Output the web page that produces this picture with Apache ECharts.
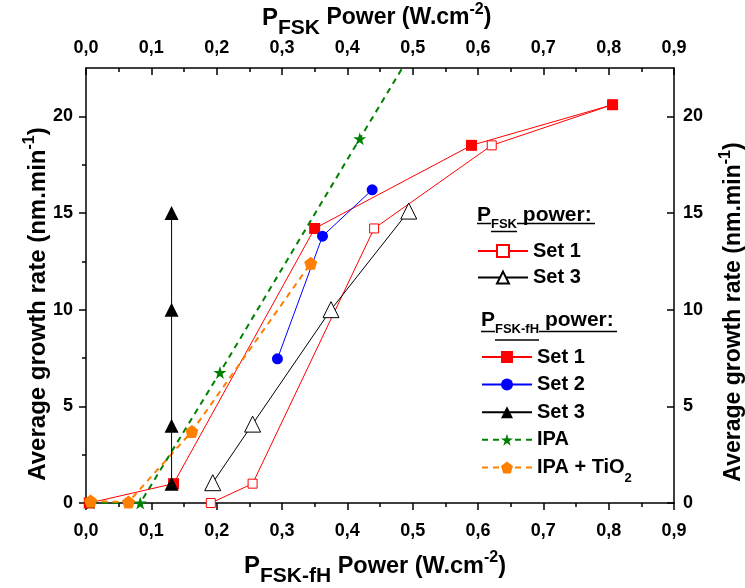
<!DOCTYPE html>
<html>
<head>
<meta charset="utf-8">
<script src="https://cdn.jsdelivr.net/npm/echarts@6/dist/echarts.min.js"></script>
<style>html,body{margin:0;padding:0;background:#fff}#c{width:745px;height:588px}</style>
</head>
<body>
<div id="c"></div>
<script>
// ---------- data ----------
// P_FSK power (top axis), open symbols
const fskSet1X = [0.191, 0.255, 0.441, 0.621, 0.806];
const fskSet1Y = [0.0, 1.0, 14.2, 18.5, 20.6];
const fskSet3X = [0.194, 0.255, 0.375, 0.494];
const fskSet3Y = [1.05, 4.08, 10.0, 15.1];
// P_FSK-fH power (bottom axis), filled symbols
const fhSet1X = [0.005, 0.134, 0.350, 0.590, 0.806];
const fhSet1Y = [0.0, 1.0, 14.2, 18.5, 20.6];
const fhSet2X = [0.293, 0.362, 0.438];
const fhSet2Y = [7.46, 13.8, 16.2];
const fhSet3X = [0.131, 0.131, 0.131, 0.131];
const fhSet3Y = [1.0, 4.0, 10.0, 15.0];
const ipaX = [0.007, 0.083, 0.205, 0.419, 0.550];
const ipaY = [0.0, 0.0, 6.75, 18.84, 26.2];
const tio2X = [0.007, 0.065, 0.162, 0.344];
const tio2Y = [0.1, 0.05, 3.7, 12.4];
// axes
const xMin = 0, xMax = 0.9, xStep = 0.1;
const yMin = 0, yMax = 22.5;
const yMajorTicks = [0, 5, 10, 15, 20];
const yMinorTicks = [2.5, 7.5, 12.5, 17.5];

const pairs = (xs, ys) => xs.map((x, i) => [x, ys[i]]);

const FONT = '"Liberation Sans", Arial, sans-serif';
const pentagon = 'path://M0,-1L0.951,-0.309L0.588,0.809L-0.588,0.809L-0.951,-0.309Z';
const star = 'path://M0,-1L0.2245,-0.309L0.951,-0.309L0.363,0.118L0.588,0.809L0,0.382L-0.588,0.809L-0.363,0.118L-0.951,-0.309L-0.2245,-0.309Z';

const axisLine = {show: true, onZero: false, lineStyle: {color: '#000', width: 1.5}};
const tickLbl = v => v.toFixed(1).replace('.', ',');

function xAxis(pos, inside, margin) {
  return {
    type: 'value', position: pos, min: xMin, max: xMax, interval: xStep,
    axisLine: axisLine,
    axisTick: {show: true, inside: inside, length: 7, lineStyle: {color: '#000', width: 1.5}},
    minorTick: {show: true, splitNumber: 2, length: 4, lineStyle: {color: '#000', width: 1.5}},
    axisLabel: {show: true, margin: margin, formatter: tickLbl, color: '#000', fontSize: 18, fontWeight: 'bold', fontFamily: FONT, showMinLabel: true, showMaxLabel: true},
    splitLine: {show: false}, minorSplitLine: {show: false}
  };
}
function yAxisMajor(pos, inside, margin) {
  return {
    type: 'value', position: pos, min: yMin, max: yMax,
    axisLine: axisLine,
    axisTick: {show: true, inside: inside, length: 7, customValues: yMajorTicks, lineStyle: {color: '#000', width: 1.5}},
    axisLabel: {show: true, margin: margin, customValues: yMajorTicks, color: '#000', fontSize: 18, fontWeight: 'bold', fontFamily: FONT},
    splitLine: {show: false}
  };
}
function yAxisMinor(pos, inside) {
  return {
    type: 'value', position: pos, min: yMin, max: yMax,
    axisLine: {show: false},
    axisTick: {show: true, inside: inside, length: 4, customValues: yMinorTicks, lineStyle: {color: '#000', width: 1.5}},
    axisLabel: {show: false},
    splitLine: {show: false}
  };
}

function lineSeries(name, xi, data, color, symbol, size, opts) {
  opts = opts || {};
  return {
    name: name, type: 'line', xAxisIndex: xi, yAxisIndex: 0, data: data,
    symbol: symbol, symbolSize: size, clip: true,
    lineStyle: {color: color, width: opts.width || 1, type: opts.dash ? [6, 5] : 'solid'},
    itemStyle: opts.hollow ? {color: '#fff', borderColor: color, borderWidth: 1} : {color: color, borderWidth: 0},
    emphasis: {disabled: true}, animation: false, z: opts.z || 2
  };
}

const titleRich = (big, sub, main, sup) => ({
  p: {fontSize: big, lineHeight: big, fontWeight: 'bold', fontFamily: FONT, color: '#000', verticalAlign: 'top', padding: [8, 0, 0, 0]},
  s: {fontSize: sub, lineHeight: sub, fontWeight: 'bold', fontFamily: FONT, color: '#000', verticalAlign: 'top', padding: [20, 0, 0, 0]},
  m: {fontSize: main, lineHeight: main, fontWeight: 'bold', fontFamily: FONT, color: '#000', verticalAlign: 'top', padding: [8 + (big - main) / 2, 0, 0, 0]},
  u: {fontSize: sup, lineHeight: sup, fontWeight: 'bold', fontFamily: FONT, color: '#000', verticalAlign: 'top', padding: [4, 0, 0, 0]}
});

const chart = echarts.init(document.getElementById('c'), null, {renderer: 'canvas'});
chart.setOption({
  animation: false,
  backgroundColor: '#fff',
  grid: {left: 86, right: 71, top: 68, bottom: 85, containLabel: false},
  xAxis: [xAxis('bottom', false, 19), xAxis('top', true, 11)],
  yAxis: [yAxisMajor('left', false, 13), yAxisMajor('right', true, 9), yAxisMinor('left', false), yAxisMinor('right', true)],
  legend: [
    {
      data: ['FSK Set 1', 'FSK Set 3'], orient: 'vertical', left: 477, top: 241, padding: 0,
      itemWidth: 50, itemHeight: 15, itemGap: 6.6, selectedMode: false,
      formatter: n => n.replace(/^(FSK|fH) /, ''),
      textStyle: {fontSize: 20, lineHeight: 20, fontWeight: 'bold', fontFamily: FONT, color: '#000'}
    },
    {
      data: ['fH Set 1', 'fH Set 2', 'fH Set 3', 'IPA', 'IPA + TiO2'], orient: 'vertical', left: 481, top: 347, padding: 0,
      itemWidth: 50, itemHeight: 15, itemGap: 7.6, selectedMode: false,
      formatter: n => n === 'IPA + TiO2' ? 'IPA + TiO{sub|2}' : n.replace(/^(FSK|fH) /, ''),
      textStyle: {fontSize: 20, lineHeight: 20, fontWeight: 'bold', fontFamily: FONT, color: '#000',
        rich: {sub: {fontSize: 13, lineHeight: 13, fontWeight: 'bold', fontFamily: FONT, color: '#000', verticalAlign: 'top', padding: [15, 0, 0, 0]}}}
    }
  ],
  series: [
    lineSeries('FSK Set 1', 1, pairs(fskSet1X, fskSet1Y), '#ff0000', 'rect', 9, {hollow: true}),
    lineSeries('FSK Set 3', 1, pairs(fskSet3X, fskSet3Y), '#000000', 'triangle', 16, {hollow: true}),
    lineSeries('fH Set 1', 0, pairs(fhSet1X, fhSet1Y), '#ff0000', 'rect', 11),
    lineSeries('fH Set 2', 0, pairs(fhSet2X, fhSet2Y), '#0000ff', 'circle', 11),
    lineSeries('fH Set 3', 0, pairs(fhSet3X, fhSet3Y), '#000000', 'triangle', 14, {z: 4}),
    lineSeries('IPA', 0, pairs(ipaX, ipaY), '#008000', star, 13, {dash: true, width: 2}),
    lineSeries('IPA + TiO2', 0, pairs(tio2X, tio2Y), '#ff8000', pentagon, 13, {dash: true, width: 2})
  ],
  graphic: [
    // axis titles
    {type: 'text', left: 244, top: 546, silent: true,
      style: {text: '{p|P}{s|FSK-fH}{m| Power (W.cm}{u|-2}{m|)}', rich: titleRich(24, 21, 23.5, 16)}},
    {type: 'text', left: 262, top: -2, silent: true,
      style: {text: '{p|P}{s|FSK}{m| Power (W.cm}{u|-2}{m|)}', rich: titleRich(24, 21, 23, 16)}},
    {type: 'text', x: 30, y: 304, rotation: Math.PI / 2, silent: true,
      style: {text: '{m|Average growth rate (nm.min}{u|-1}{m|)}', rich: titleRich(24, 21, 24, 16), align: 'center', verticalAlign: 'middle'}},
    {type: 'text', x: 725, y: 312, rotation: Math.PI / 2, silent: true,
      style: {text: '{m|Average growth rate (nm.min}{u|-1}{m|)}', rich: titleRich(24, 21, 23, 16), align: 'center', verticalAlign: 'middle'}},
    // legend headers
    {type: 'text', left: 477, top: 200, silent: true,
      style: {text: '{p|P}{s|FSK}{m| power:}', rich: {
        p: {fontSize: 21, lineHeight: 21, fontWeight: 'bold', fontFamily: FONT, color: '#000', verticalAlign: 'top', padding: [5, 0, 0, 0]},
        s: {fontSize: 13, lineHeight: 13, fontWeight: 'bold', fontFamily: FONT, color: '#000', verticalAlign: 'top', padding: [18, 0, 0, 0]},
        m: {fontSize: 21, lineHeight: 21, fontWeight: 'bold', fontFamily: FONT, color: '#000', verticalAlign: 'top', padding: [5, 0, 0, 0]}
      }}},
    {type: 'line', silent: true, shape: {x1: 477, y1: 223.5, x2: 491, y2: 223.5}, style: {stroke: '#000', lineWidth: 1.5}},
    {type: 'line', silent: true, shape: {x1: 491, y1: 231.5, x2: 517, y2: 231.5}, style: {stroke: '#000', lineWidth: 1.5}},
    {type: 'line', silent: true, shape: {x1: 517, y1: 223.5, x2: 595, y2: 223.5}, style: {stroke: '#000', lineWidth: 1.5}},
    {type: 'text', left: 481, top: 305, silent: true,
      style: {text: '{p|P}{s|FSK-fH}{m| power:}', rich: {
        p: {fontSize: 21, lineHeight: 21, fontWeight: 'bold', fontFamily: FONT, color: '#000', verticalAlign: 'top', padding: [5, 0, 0, 0]},
        s: {fontSize: 13, lineHeight: 13, fontWeight: 'bold', fontFamily: FONT, color: '#000', verticalAlign: 'top', padding: [18, 0, 0, 0]},
        m: {fontSize: 21, lineHeight: 21, fontWeight: 'bold', fontFamily: FONT, color: '#000', verticalAlign: 'top', padding: [5, 0, 0, 0]}
      }}},
    {type: 'line', silent: true, shape: {x1: 481, y1: 331.5, x2: 495, y2: 331.5}, style: {stroke: '#000', lineWidth: 1.5}},
    {type: 'line', silent: true, shape: {x1: 495, y1: 340, x2: 539, y2: 340}, style: {stroke: '#000', lineWidth: 1.5}},
    {type: 'line', silent: true, shape: {x1: 539, y1: 331.5, x2: 617, y2: 331.5}, style: {stroke: '#000', lineWidth: 1.5}}
  ]
});
</script>
</body>
</html>
